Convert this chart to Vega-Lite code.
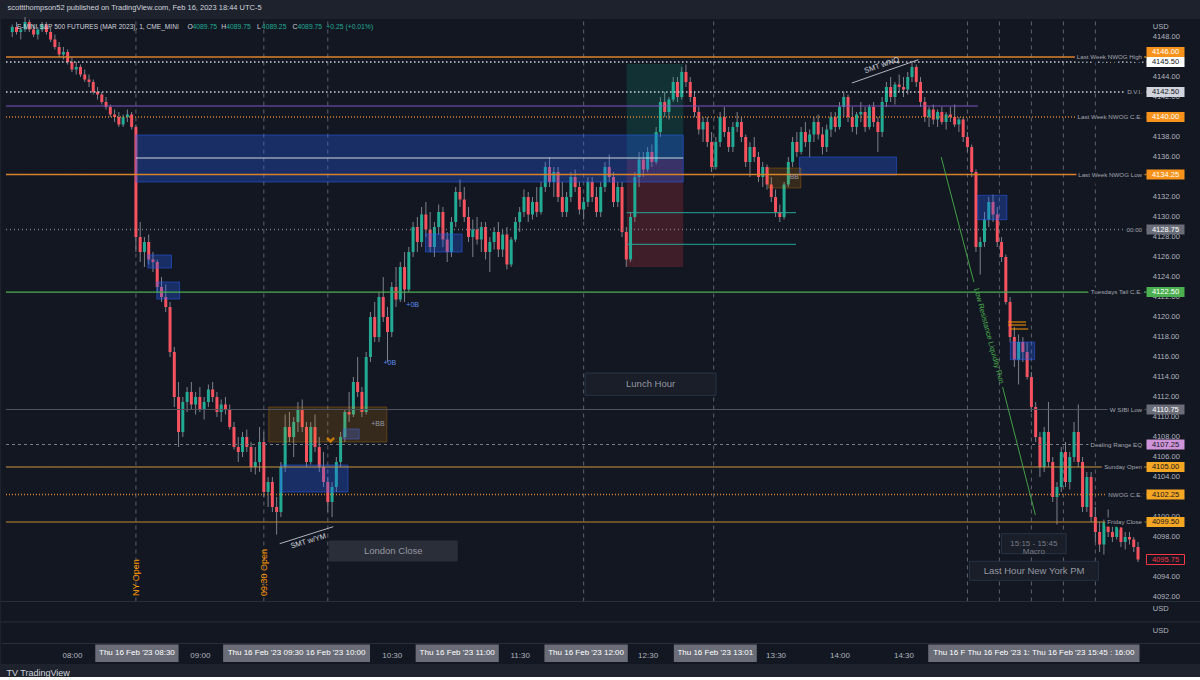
{
"$schema":"https://vega.github.io/schema/vega-lite/v6.json",
"width":1200,"height":645,
"padding":{"left":0,"top":4,"right":0,"bottom":0},
"background":"#1e222d",
"title":{"text":"scottthompson52 published on TradingView.com, Feb 16, 2023 18:44 UTC-5","anchor":"start","fontSize":7.5,"fontWeight":"normal","color":"#d1d4dc","font":"Liberation Sans","offset":5,"dx":7},
"config":{"view":{"fill":"#131722","stroke":null},"font":"Liberation Sans","text":{"font":"Liberation Sans"},"legend":{"disable":true},
 "axis":{"grid":false,"ticks":false,"domain":false,"labelColor":"#b2b5be","labelFont":"Liberation Sans","labelFontSize":7.5,"labelOverlap":false}},
"resolve":{"scale":{"color":"independent","fill":"independent","stroke":"independent","strokeDash":"independent","strokeWidth":"independent"}},
"datasets":{
"c":[
{"t":452,"o":4148.5,"h":4149.25,"l":4148,"c":4149},{"t":454,"o":4149,"h":4149.5,"l":4148.25,"c":4148.5},{"t":456,"o":4148.5,"h":4149,"l":4147.75,"c":4148.75},{"t":458,"o":4148.75,"h":4150,"l":4148.5,"c":4149.5},{"t":460,"o":4149.5,"h":4149.75,"l":4148.5,"c":4148.75},{"t":462,"o":4148.75,"h":4149.25,"l":4148,"c":4148.25},{"t":464,"o":4148.25,"h":4149,"l":4147.75,"c":4148.75},{"t":466,"o":4148.75,"h":4149.5,"l":4148.5,"c":4149.25},{"t":468,"o":4149.25,"h":4149.5,"l":4148.25,"c":4148.5},{"t":470,"o":4148.5,"h":4149,"l":4147.5,"c":4147.75},
{"t":472,"o":4147.75,"h":4148.25,"l":4146.75,"c":4147},{"t":474,"o":4147,"h":4147.5,"l":4146,"c":4146.25},{"t":476,"o":4146.25,"h":4147,"l":4145.75,"c":4146.5},{"t":478,"o":4146.5,"h":4146.75,"l":4145.25,"c":4145.5},{"t":480,"o":4145.5,"h":4146,"l":4144.5,"c":4144.75},{"t":482,"o":4144.75,"h":4145.5,"l":4144.25,"c":4145},{"t":484,"o":4145,"h":4145.25,"l":4144,"c":4144.25},{"t":486,"o":4144.25,"h":4144.75,"l":4143.5,"c":4143.75},{"t":488,"o":4143.75,"h":4144.25,"l":4143,"c":4143.5},{"t":490,"o":4143.5,"h":4143.75,"l":4142.25,"c":4142.5},
{"t":492,"o":4142.5,"h":4143,"l":4141.75,"c":4142.25},{"t":494,"o":4142.25,"h":4142.5,"l":4141.25,"c":4141.5},{"t":496,"o":4141.5,"h":4142,"l":4140.75,"c":4141},{"t":498,"o":4141,"h":4141.25,"l":4140,"c":4140.25},{"t":500,"o":4140.25,"h":4140.75,"l":4139.5,"c":4140},{"t":502,"o":4140,"h":4140.5,"l":4139,"c":4139.25},{"t":504,"o":4139.25,"h":4140.25,"l":4139,"c":4140},{"t":506,"o":4140,"h":4140.75,"l":4139.5,"c":4140.25},{"t":508,"o":4140.25,"h":4140.5,"l":4138.75,"c":4139},{"t":510,"o":4139,"h":4139.25,"l":4126.5,"c":4128},
{"t":512,"o":4128,"h":4129.5,"l":4125.5,"c":4126.5},{"t":514,"o":4126.5,"h":4128,"l":4125,"c":4127.5},{"t":516,"o":4127.5,"h":4128.25,"l":4125.25,"c":4125.75},{"t":518,"o":4125.75,"h":4126.5,"l":4124.5,"c":4125.5},{"t":520,"o":4125.5,"h":4125.75,"l":4122.5,"c":4123},{"t":522,"o":4123,"h":4124,"l":4121.5,"c":4122},{"t":524,"o":4122,"h":4123.25,"l":4120.5,"c":4121},{"t":526,"o":4121,"h":4121.5,"l":4116,"c":4116.5},{"t":528,"o":4116.5,"h":4117,"l":4111,"c":4112},{"t":530,"o":4112,"h":4113.5,"l":4107,"c":4108.5},
{"t":532,"o":4108.5,"h":4112,"l":4108,"c":4111.5},{"t":534,"o":4111.5,"h":4113,"l":4110.5,"c":4112.5},{"t":536,"o":4112.5,"h":4113.5,"l":4110.75,"c":4111.25},{"t":538,"o":4111.25,"h":4112.5,"l":4110.25,"c":4112},{"t":540,"o":4112,"h":4113,"l":4110.5,"c":4110.75},{"t":542,"o":4110.75,"h":4112,"l":4109.75,"c":4111.5},{"t":544,"o":4111.5,"h":4113.25,"l":4111,"c":4112.75},{"t":546,"o":4112.75,"h":4113.5,"l":4111.5,"c":4112},{"t":548,"o":4112,"h":4112.5,"l":4110,"c":4110.5},{"t":550,"o":4110.5,"h":4111.75,"l":4109.5,"c":4111.25},
{"t":552,"o":4111.25,"h":4112,"l":4110.25,"c":4110.75},{"t":554,"o":4110.75,"h":4111.25,"l":4108.75,"c":4109},{"t":556,"o":4109,"h":4109.5,"l":4106.75,"c":4107},{"t":558,"o":4107,"h":4108,"l":4105.5,"c":4106.5},{"t":560,"o":4106.5,"h":4108.5,"l":4106,"c":4108},{"t":562,"o":4108,"h":4108.75,"l":4106.5,"c":4107},{"t":564,"o":4107,"h":4107.5,"l":4104.5,"c":4105},{"t":566,"o":4105,"h":4107,"l":4104.25,"c":4105.5},{"t":568,"o":4105.5,"h":4109,"l":4104.5,"c":4107.5},{"t":570,"o":4107.5,"h":4108.5,"l":4102,"c":4102.5},
{"t":572,"o":4102.5,"h":4104,"l":4101,"c":4103.5},{"t":574,"o":4103.5,"h":4104,"l":4100.5,"c":4101},{"t":576,"o":4101,"h":4102,"l":4098.25,"c":4100.5},{"t":578,"o":4100.5,"h":4105.5,"l":4100,"c":4105},{"t":580,"o":4105,"h":4110.25,"l":4104.5,"c":4109},{"t":582,"o":4109,"h":4110.5,"l":4107.5,"c":4108},{"t":584,"o":4108,"h":4110,"l":4106,"c":4109.5},{"t":586,"o":4109.5,"h":4111.5,"l":4108.5,"c":4110.75},{"t":588,"o":4110.75,"h":4111.75,"l":4108.5,"c":4109},{"t":590,"o":4109,"h":4109.5,"l":4105,"c":4105.5},
{"t":592,"o":4105.5,"h":4109.5,"l":4105.25,"c":4109},{"t":594,"o":4109,"h":4110.25,"l":4106.5,"c":4107},{"t":596,"o":4107,"h":4108,"l":4104.5,"c":4105},{"t":598,"o":4105,"h":4106.5,"l":4103,"c":4103.5},{"t":600,"o":4103.5,"h":4104,"l":4100.5,"c":4101.5},{"t":602,"o":4101.5,"h":4103.5,"l":4100,"c":4103},{"t":604,"o":4103,"h":4106,"l":4102.5,"c":4105.5},{"t":606,"o":4105.5,"h":4108.5,"l":4105,"c":4108},{"t":608,"o":4108,"h":4110.75,"l":4107.5,"c":4110.5},{"t":610,"o":4110.5,"h":4112.5,"l":4109.5,"c":4110.25},
{"t":612,"o":4110.25,"h":4114,"l":4110,"c":4113.5},{"t":614,"o":4113.5,"h":4116,"l":4112,"c":4112.5},{"t":616,"o":4112.5,"h":4113,"l":4110,"c":4110.5},{"t":618,"o":4110.5,"h":4116.5,"l":4110.25,"c":4116},{"t":620,"o":4116,"h":4120.5,"l":4115.5,"c":4120},{"t":622,"o":4120,"h":4121.5,"l":4117.5,"c":4118},{"t":624,"o":4118,"h":4122.5,"l":4117.5,"c":4122},{"t":626,"o":4122,"h":4124,"l":4119.5,"c":4120},{"t":628,"o":4120,"h":4121,"l":4115.5,"c":4118.5},{"t":630,"o":4118.5,"h":4123.5,"l":4118,"c":4123},
{"t":632,"o":4123,"h":4125,"l":4121,"c":4121.75},{"t":634,"o":4121.75,"h":4125.5,"l":4121.5,"c":4125},{"t":636,"o":4125,"h":4126.5,"l":4121.5,"c":4122.75},{"t":638,"o":4122.75,"h":4127,"l":4122.5,"c":4126.5},{"t":640,"o":4126.5,"h":4129.5,"l":4126,"c":4129},{"t":642,"o":4129,"h":4130,"l":4126.5,"c":4127.5},{"t":644,"o":4127.5,"h":4131,"l":4127,"c":4130.25},{"t":646,"o":4130.25,"h":4131.5,"l":4128,"c":4128.75},{"t":648,"o":4128.75,"h":4130.5,"l":4126.5,"c":4127},{"t":650,"o":4127,"h":4129.5,"l":4126,"c":4129},
{"t":652,"o":4129,"h":4131.25,"l":4128.25,"c":4130.5},{"t":654,"o":4130.5,"h":4131,"l":4127,"c":4127.75},{"t":656,"o":4127.75,"h":4128.5,"l":4125.5,"c":4126.5},{"t":658,"o":4126.5,"h":4130,"l":4126,"c":4129.5},{"t":660,"o":4129.5,"h":4133,"l":4129,"c":4132.5},{"t":662,"o":4132.5,"h":4133.75,"l":4131,"c":4131.75},{"t":664,"o":4131.75,"h":4133,"l":4129.5,"c":4130},{"t":666,"o":4130,"h":4131,"l":4127.5,"c":4128},{"t":668,"o":4128,"h":4129.75,"l":4126,"c":4128.75},{"t":670,"o":4128.75,"h":4130,"l":4127.25,"c":4127.75},
{"t":672,"o":4127.75,"h":4129.5,"l":4126.5,"c":4129},{"t":674,"o":4129,"h":4129.5,"l":4125.75,"c":4126.5},{"t":676,"o":4126.5,"h":4128,"l":4124.5,"c":4127.5},{"t":678,"o":4127.5,"h":4129,"l":4126.75,"c":4128.5},{"t":680,"o":4128.5,"h":4129.5,"l":4126,"c":4126.75},{"t":682,"o":4126.75,"h":4128.75,"l":4126,"c":4128.25},{"t":684,"o":4128.25,"h":4129,"l":4124.75,"c":4125.25},{"t":686,"o":4125.25,"h":4128,"l":4125,"c":4127.75},{"t":688,"o":4127.75,"h":4130,"l":4127.5,"c":4129.5},{"t":690,"o":4129.5,"h":4131,"l":4128.5,"c":4130.5},
{"t":692,"o":4130.5,"h":4132.75,"l":4130,"c":4132},{"t":694,"o":4132,"h":4132.5,"l":4129.5,"c":4130.25},{"t":696,"o":4130.25,"h":4132,"l":4129.75,"c":4131.5},{"t":698,"o":4131.5,"h":4133,"l":4130,"c":4130.5},{"t":700,"o":4130.5,"h":4133.5,"l":4130.25,"c":4133},{"t":702,"o":4133,"h":4135.5,"l":4132.5,"c":4135},{"t":704,"o":4135,"h":4136,"l":4133,"c":4133.5},{"t":706,"o":4133.5,"h":4135,"l":4132,"c":4134.5},{"t":708,"o":4134.5,"h":4135,"l":4131.5,"c":4132},{"t":710,"o":4132,"h":4133.5,"l":4130,"c":4130.5},
{"t":712,"o":4130.5,"h":4132.5,"l":4130,"c":4132},{"t":714,"o":4132,"h":4134.5,"l":4131.5,"c":4134},{"t":716,"o":4134,"h":4134.75,"l":4132.5,"c":4133},{"t":718,"o":4133,"h":4133.5,"l":4130.25,"c":4130.75},{"t":720,"o":4130.75,"h":4132,"l":4129.75,"c":4131.5},{"t":722,"o":4131.5,"h":4134,"l":4131,"c":4133.5},{"t":724,"o":4133.5,"h":4134,"l":4131.5,"c":4132},{"t":726,"o":4132,"h":4133,"l":4130,"c":4130.5},{"t":728,"o":4130.5,"h":4133.5,"l":4130,"c":4133},{"t":730,"o":4133,"h":4135.5,"l":4132.5,"c":4135},
{"t":732,"o":4135,"h":4136.25,"l":4133.5,"c":4134},{"t":734,"o":4134,"h":4134.5,"l":4131,"c":4131.5},{"t":736,"o":4131.5,"h":4133.5,"l":4131,"c":4133},{"t":738,"o":4133,"h":4133.5,"l":4128,"c":4128.5},{"t":740,"o":4128.5,"h":4129,"l":4125,"c":4125.75},{"t":742,"o":4125.75,"h":4130.5,"l":4125.5,"c":4130},{"t":744,"o":4130,"h":4134.5,"l":4129.5,"c":4134},{"t":746,"o":4134,"h":4136.5,"l":4133,"c":4135.75},{"t":748,"o":4135.75,"h":4136.5,"l":4134,"c":4134.75},{"t":750,"o":4134.75,"h":4137,"l":4134.5,"c":4136.5},
{"t":752,"o":4136.5,"h":4137.25,"l":4135,"c":4135.5},{"t":754,"o":4135.5,"h":4139,"l":4135.25,"c":4138.5},{"t":756,"o":4138.5,"h":4142,"l":4138,"c":4141.5},{"t":758,"o":4141.5,"h":4142.5,"l":4140,"c":4140.5},{"t":760,"o":4140.5,"h":4142,"l":4139.75,"c":4141.75},{"t":762,"o":4141.75,"h":4144,"l":4141.5,"c":4143.5},{"t":764,"o":4143.5,"h":4144,"l":4141.5,"c":4142},{"t":766,"o":4142,"h":4145,"l":4141.75,"c":4144.5},{"t":768,"o":4144.5,"h":4145.25,"l":4143,"c":4143.5},{"t":770,"o":4143.5,"h":4144,"l":4141.5,"c":4142},
{"t":772,"o":4142,"h":4142.5,"l":4140,"c":4140.5},{"t":774,"o":4140.5,"h":4141,"l":4138.25,"c":4138.75},{"t":776,"o":4138.75,"h":4140,"l":4137.5,"c":4139.5},{"t":778,"o":4139.5,"h":4140,"l":4137,"c":4137.5},{"t":780,"o":4137.5,"h":4138.5,"l":4134.5,"c":4135},{"t":782,"o":4135,"h":4138,"l":4134.75,"c":4137.5},{"t":784,"o":4137.5,"h":4140.5,"l":4137,"c":4140},{"t":786,"o":4140,"h":4141,"l":4138,"c":4138.5},{"t":788,"o":4138.5,"h":4139,"l":4136.5,"c":4137},{"t":790,"o":4137,"h":4139.5,"l":4136.5,"c":4139},
{"t":792,"o":4139,"h":4140.5,"l":4138.5,"c":4139.5},{"t":794,"o":4139.5,"h":4140,"l":4137.5,"c":4138},{"t":796,"o":4138,"h":4138.25,"l":4135,"c":4135.5},{"t":798,"o":4135.5,"h":4137.5,"l":4134,"c":4137},{"t":800,"o":4137,"h":4138,"l":4135.5,"c":4136},{"t":802,"o":4136,"h":4136.5,"l":4133.5,"c":4134},{"t":804,"o":4134,"h":4135.5,"l":4133,"c":4135},{"t":806,"o":4135,"h":4135.25,"l":4132.75,"c":4133.25},{"t":808,"o":4133.25,"h":4134,"l":4131.5,"c":4132},{"t":810,"o":4132,"h":4132.75,"l":4130,"c":4130.5},
{"t":812,"o":4130.5,"h":4131.25,"l":4129.5,"c":4130},{"t":814,"o":4130,"h":4133.5,"l":4129.75,"c":4133.25},{"t":816,"o":4133.25,"h":4136,"l":4133,"c":4135.5},{"t":818,"o":4135.5,"h":4138,"l":4135,"c":4137.5},{"t":820,"o":4137.5,"h":4138.5,"l":4136,"c":4136.5},{"t":822,"o":4136.5,"h":4139,"l":4136.25,"c":4138.5},{"t":824,"o":4138.5,"h":4139.5,"l":4137,"c":4137.5},{"t":826,"o":4137.5,"h":4138.75,"l":4136,"c":4138.25},{"t":828,"o":4138.25,"h":4140,"l":4137.5,"c":4139.5},{"t":830,"o":4139.5,"h":4140.25,"l":4137.75,"c":4138.25},
{"t":832,"o":4138.25,"h":4139,"l":4136.25,"c":4137},{"t":834,"o":4137,"h":4139.25,"l":4136.5,"c":4138.75},{"t":836,"o":4138.75,"h":4140.5,"l":4138,"c":4140},{"t":838,"o":4140,"h":4140.5,"l":4138.5,"c":4139},{"t":840,"o":4139,"h":4141.5,"l":4138.75,"c":4141},{"t":842,"o":4141,"h":4142.5,"l":4140,"c":4142},{"t":844,"o":4142,"h":4142.25,"l":4139.5,"c":4140},{"t":846,"o":4140,"h":4141,"l":4138.5,"c":4139},{"t":848,"o":4139,"h":4140.5,"l":4138.25,"c":4140.25},{"t":850,"o":4140.25,"h":4141.5,"l":4139.5,"c":4140.5},
{"t":852,"o":4140.5,"h":4141,"l":4138.5,"c":4139},{"t":854,"o":4139,"h":4141.25,"l":4138.75,"c":4141},{"t":856,"o":4141,"h":4141.5,"l":4139,"c":4139.5},{"t":858,"o":4139.5,"h":4140,"l":4136.5,"c":4138.5},{"t":860,"o":4138.5,"h":4142,"l":4138,"c":4141.5},{"t":862,"o":4141.5,"h":4143.5,"l":4141,"c":4143},{"t":864,"o":4143,"h":4144,"l":4141.5,"c":4142},{"t":866,"o":4142,"h":4143.5,"l":4141.25,"c":4143.25},{"t":868,"o":4143.25,"h":4144.25,"l":4142.5,"c":4143},{"t":870,"o":4143,"h":4144,"l":4142,"c":4142.75},
{"t":872,"o":4142.75,"h":4144.5,"l":4142.25,"c":4144},{"t":874,"o":4144,"h":4145.5,"l":4143.5,"c":4145},{"t":876,"o":4145,"h":4145.25,"l":4143,"c":4143.5},{"t":878,"o":4143.5,"h":4144,"l":4141,"c":4141.5},{"t":880,"o":4141.5,"h":4142,"l":4139.5,"c":4140},{"t":882,"o":4140,"h":4141,"l":4139,"c":4140.75},{"t":884,"o":4140.75,"h":4141.25,"l":4139.25,"c":4139.75},{"t":886,"o":4139.75,"h":4140.75,"l":4139,"c":4140.5},{"t":888,"o":4140.5,"h":4141,"l":4139.25,"c":4139.5},{"t":890,"o":4139.5,"h":4140.5,"l":4138.75,"c":4140.25},
{"t":892,"o":4140.25,"h":4141,"l":4139.5,"c":4140},{"t":894,"o":4140,"h":4141.25,"l":4139,"c":4139.25},{"t":896,"o":4139.25,"h":4140,"l":4138.5,"c":4139.75},{"t":898,"o":4139.75,"h":4140,"l":4137.5,"c":4138},{"t":900,"o":4138,"h":4138.5,"l":4136.5,"c":4137},{"t":902,"o":4137,"h":4137.25,"l":4134,"c":4134.5},{"t":904,"o":4134.5,"h":4134.75,"l":4126.5,"c":4127},{"t":906,"o":4127,"h":4128,"l":4124.25,"c":4127.5},{"t":908,"o":4127.5,"h":4130.5,"l":4127,"c":4129.75},{"t":910,"o":4129.75,"h":4132,"l":4129,"c":4131.5},
{"t":912,"o":4131.5,"h":4132.25,"l":4129.5,"c":4130.25},{"t":914,"o":4130.25,"h":4131,"l":4127,"c":4127.5},{"t":916,"o":4127.5,"h":4128,"l":4125.5,"c":4126},{"t":918,"o":4126,"h":4126.25,"l":4121.25,"c":4121.5},{"t":920,"o":4121.5,"h":4122,"l":4117.5,"c":4118},{"t":922,"o":4118,"h":4119,"l":4115,"c":4115.75},{"t":924,"o":4115.75,"h":4118.25,"l":4113.25,"c":4117.5},{"t":926,"o":4117.5,"h":4118,"l":4115.5,"c":4116.5},{"t":928,"o":4116.5,"h":4117.5,"l":4113.75,"c":4114},{"t":930,"o":4114,"h":4114.5,"l":4110.5,"c":4111},
{"t":932,"o":4111,"h":4111.5,"l":4107.5,"c":4108},{"t":934,"o":4108,"h":4108.5,"l":4104,"c":4105},{"t":936,"o":4105,"h":4109,"l":4104.5,"c":4108.5},{"t":938,"o":4108.5,"h":4111.5,"l":4105,"c":4105.5},{"t":940,"o":4105.5,"h":4106,"l":4101.5,"c":4102},{"t":942,"o":4102,"h":4103.5,"l":4099.25,"c":4103},{"t":944,"o":4103,"h":4107,"l":4102.5,"c":4106.5},{"t":946,"o":4106.5,"h":4107.5,"l":4103,"c":4103.5},{"t":948,"o":4103.5,"h":4106.5,"l":4102.75,"c":4106},{"t":950,"o":4106,"h":4109.5,"l":4105.5,"c":4108.5},
{"t":952,"o":4108.5,"h":4111.25,"l":4105,"c":4105.5},{"t":954,"o":4105.5,"h":4106,"l":4100.5,"c":4101},{"t":956,"o":4101,"h":4104.5,"l":4100.5,"c":4104},{"t":958,"o":4104,"h":4104.5,"l":4099.5,"c":4100},{"t":960,"o":4100,"h":4101,"l":4097.5,"c":4098.5},{"t":962,"o":4098.5,"h":4099.5,"l":4096.5,"c":4097.25},{"t":964,"o":4097.25,"h":4099.75,"l":4096.25,"c":4099.5},{"t":966,"o":4099.5,"h":4100.75,"l":4098,"c":4098.5},{"t":968,"o":4098.5,"h":4099.5,"l":4097.5,"c":4098},{"t":970,"o":4098,"h":4099.5,"l":4097.75,"c":4099.25},
{"t":972,"o":4099.25,"h":4099.5,"l":4097,"c":4097.5},{"t":974,"o":4097.5,"h":4098.5,"l":4096.75,"c":4098},{"t":976,"o":4098,"h":4098.5,"l":4097.25,"c":4097.75},{"t":978,"o":4097.75,"h":4098,"l":4096.5,"c":4097},{"t":980,"o":4097,"h":4097.5,"l":4095.5,"c":4095.75}
],
"lv":[
{"p":4146,"label":"Last Week NWOG High","line":"os","tag":"ow"},
{"p":4145.5,"label":"","line":"wd","tag":"wh"},
{"p":4142.5,"label":"D.V.I.","line":"wd","tag":"sv"},
{"p":4140,"label":"Last Week NWOG C.E.","line":"od","tag":"ow"},
{"p":4134.25,"label":"Last Week NWOG Low","line":"os","tag":"ow"},
{"p":4128.75,"label":"00:00","line":"gd","tag":"gy"},
{"p":4122.5,"label":"Tuesdays Tail C.E.","line":"gr","tag":"gn"},
{"p":4110.75,"label":"W SIBI Low","line":"gs","tag":"gy"},
{"p":4107.25,"label":"Dealing Range EQ","line":"gdash","tag":"pk"},
{"p":4105,"label":"Sunday Open","line":"tan","tag":"am"},
{"p":4102.25,"label":"NWOG C.E.","line":"od","tag":"am"},
{"p":4099.5,"label":"Friday Close","line":"ot","tag":"am"}
],
"bb":[
{"t1":510,"t2":766.7,"p1":4138.2,"p2":4133.5},
{"t1":577.8,"t2":609.5,"p1":4105.2,"p2":4102.5},
{"t1":607.2,"t2":614.7,"p1":4108.8,"p2":4107.8},
{"t1":821.2,"t2":866.7,"p1":4136,"p2":4134.2},
{"t1":645.8,"t2":663,"p1":4128.3,"p2":4126.5},
{"t1":515.6,"t2":526.7,"p1":4126.2,"p2":4124.9},
{"t1":519.8,"t2":530.5,"p1":4123.5,"p2":4121.8},
{"t1":904.9,"t2":918.5,"p1":4132.17,"p2":4129.73},
{"t1":920.1,"t2":931.5,"p1":4117.5,"p2":4115.73}
],
"ob":[
{"t1":572.3,"t2":627.7,"p1":4111,"p2":4107.5},
{"t1":806.7,"t2":821.9,"p1":4134.9,"p2":4132.9}
],
"seg":[
{"t1":510,"t2":766.7,"p":4135.9,"k":"w"},
{"t1":740.2,"t2":819.6,"p":4130.43,"k":"t"},
{"t1":740.2,"t2":819.6,"p":4127.27,"k":"t"},
{"t1":449.07,"t2":904.9,"p":4141.1,"k":"pu"},
{"t1":919,"t2":927.5,"p":4119.5,"k":"o"},
{"t1":919,"t2":927.5,"p":4119.2,"k":"o"},
{"t1":920,"t2":928.5,"p":4118.8,"k":"o"}
],
"diag":[
{"g":"a","t":577.44,"p":4097.33},{"g":"a","t":602.56,"p":4099.03},
{"g":"b","t":845.81,"p":4143.4},{"g":"b","t":876.98,"p":4145.73},
{"g":"c","t":887.68,"p":4136.0},{"g":"c","t":903.0,"p":4123.5},
{"g":"d","t":916.5,"p":4113.0},{"g":"d","t":931.86,"p":4100.2}
],
"zones":[
{"label":"London Close","t1":600.7,"t2":660.7,"p1":4097.6,"p2":4095.6,"k":"s"},
{"label":"Lunch Hour","t1":720.7,"t2":782.1,"p1":4114.4,"p2":4112.17,"k":"f"},
{"label":"Last Hour New York PM","t1":901,"t2":961.5,"p1":4095.57,"p2":4093.67,"k":"f"},
{"label":"15:15 - 15:45\nMacro","t1":916,"t2":946.3,"p1":4098.33,"p2":4096.33,"k":"f"}
],
"notes":[
{"txt":"+0B","t":639.8,"p":4121.2,"k":"b"},
{"txt":"+0B","t":629.1,"p":4115.4,"k":"b"},
{"txt":"+BB","t":623.5,"p":4109.27,"k":"g"},
{"txt":"BB","t":818.8,"p":4134,"k":"g"}
],
"tx":[
{"t1":490.93,"t2":530,"label":"Thu 16 Feb '23  08:30"},
{"t1":550.9,"t2":619.8,"label":"Thu 16 Feb '23  09:30   16 Feb '23  10:00"},
{"t1":641.2,"t2":680.2,"label":"Thu 16 Feb '23  11:00"},
{"t1":701.6,"t2":740.7,"label":"Thu 16 Feb '23  12:00"},
{"t1":762.3,"t2":801.2,"label":"Thu 16 Feb '23  13:01"},
{"t1":881.6,"t2":980.7,"label":"Thu 16 F   Thu 16 Feb '23  1:   Thu 16 Feb '23  15:45  :  16:00"}
],
"usd":[{"p":4149.0},{"p":4090.77},{"p":4088.63}],
"yt":[{"p":4148},{"p":4144},{"p":4142},{"p":4138},{"p":4136},{"p":4132},{"p":4130},{"p":4128},{"p":4126},{"p":4124},{"p":4122},{"p":4120},{"p":4118},{"p":4116},{"p":4114},{"p":4112},{"p":4110},{"p":4108},{"p":4106},{"p":4104},{"p":4100},{"p":4098},{"p":4096},{"p":4094},{"p":4092}],
"vl":[{"t":510},{"t":570},{"t":600},{"t":720},{"t":781},{"t":900},{"t":915},{"t":930},{"t":945},{"t":960}]
},
"layer":[
{"data":{"name":"c"},"mark":{"type":"rule","color":"#7d818b","strokeWidth":1},
 "encoding":{
  "x":{"field":"t","type":"quantitative","scale":{"domain":[449.07,1007.2],"nice":false,"zero":false},
   "axis":{"orient":"bottom","offset":-21,"values":[480,540,630,690,750,810,840,870],
    "labelExpr":"format(floor(datum.value/60),'02d')+':'+format(datum.value%60,'02d')",
    "ticks":false,"tickSize":0,"grid":false,"domain":true,"domainColor":"#2a2e39","labelColor":"#b2b5be","labelFontSize":8,"labelFont":"Liberation Sans",
    "labelPadding":12,"labelBaseline":"middle","labelFlush":false,"labelOverlap":false,
    "title":"TV TradingView","titleX":5,"titleY":29,"titleAlign":"left","titleBaseline":"middle","titleFontSize":9,"titleFontWeight":"normal","titleColor":"#d1d4dc","titleFont":"Liberation Sans"}},
  "y":{"field":"l","type":"quantitative","scale":{"domain":[4085.3,4149.8],"nice":false,"zero":false},
   "axis":{"orient":"right","offset":-50,"labels":false,"ticks":false,"grid":false,"domain":false,"title":null}},
  "y2":{"field":"h"}}},
{"data":{"name":"vl"},"mark":{"type":"rule","color":"#787b86","strokeDash":[4,4],"strokeWidth":1,"opacity":0.75},
 "encoding":{"x":{"field":"t","type":"quantitative"},"y":{"datum":4091.55},"y2":{"datum":4149.8}}},
{"data":{"values":[{"p":4091.55},{"p":4089.5}]},"mark":{"type":"rule","color":"#2a2e39","strokeWidth":1},
 "encoding":{"y":{"field":"p","type":"quantitative"}}},
{"data":{"name":"usd"},"mark":{"type":"text","text":"USD","color":"#b2b5be","fontSize":7.5,"align":"left","baseline":"middle"},
 "encoding":{"x":{"datum":986.9},"y":{"field":"p","type":"quantitative"}}},
{"data":{"name":"yt"},"mark":{"type":"text","color":"#b2b5be","fontSize":7.5,"align":"left","baseline":"middle"},
 "encoding":{"x":{"datum":986.9},"y":{"field":"p","type":"quantitative"},"text":{"field":"p","type":"quantitative","format":".2f"}}},
{"data":{"values":[{"t1":740.2,"t2":766.7,"p1":4145.3,"p2":4135.75,"k":"g"},{"t1":740.2,"t2":766.7,"p1":4135.75,"p2":4125,"k":"r"}]},
 "mark":{"type":"rect","opacity":0.2},
 "encoding":{"x":{"field":"t1","type":"quantitative"},"x2":{"field":"t2"},"y":{"field":"p1","type":"quantitative"},"y2":{"field":"p2"},
  "fill":{"field":"k","type":"nominal","scale":{"domain":["g","r"],"range":["#089981","#f23645"]}}}},
{"data":{"name":"c"},"mark":{"type":"bar","size":3},
 "encoding":{"x":{"field":"t","type":"quantitative"},"y":{"field":"o","type":"quantitative"},"y2":{"field":"c"},
  "color":{"condition":{"test":"datum.c >= datum.o","value":"#22ab94"},"value":"#f7525f"}}},
{"data":{"name":"bb"},"mark":{"type":"rect","fill":"#2962ff","fillOpacity":0.3,"stroke":"#2962ff","strokeOpacity":0.5,"strokeWidth":1},
 "encoding":{"x":{"field":"t1","type":"quantitative"},"x2":{"field":"t2"},"y":{"field":"p1","type":"quantitative"},"y2":{"field":"p2"}}},
{"data":{"name":"ob"},"mark":{"type":"rect","fill":"#ff9800","fillOpacity":0.15,"stroke":"#ff9800","strokeOpacity":0.25,"strokeWidth":1},
 "encoding":{"x":{"field":"t1","type":"quantitative"},"x2":{"field":"t2"},"y":{"field":"p1","type":"quantitative"},"y2":{"field":"p2"}}},
{"data":{"name":"lv"},"mark":{"type":"rule"},
 "encoding":{"x":{"datum":449.07},"x2":{"datum":984},"y":{"field":"p","type":"quantitative"},
  "color":{"field":"line","type":"nominal","scale":{"domain":["os","wd","od","gd","gr","gs","gdash","tan","ot"],"range":["#d9822b","#d1d4dc","#d9822b","#787b86","#4caf50","#50535e","#787b86","#c9953f","#c08a35"]}},
  "strokeDash":{"field":"line","type":"nominal","scale":{"domain":["os","wd","od","gd","gr","gs","gdash","tan","ot"],"range":[[1,0],[1.5,2.5],[1,2],[1,3],[1,0],[1,0],[3,3],[1,0],[1,0]]}},
  "strokeWidth":{"field":"line","type":"nominal","scale":{"domain":["os","wd","od","gd","gr","gs","gdash","tan","ot"],"range":[1.5,1,1,1,1,1,1,1.5,2]}}}},
{"data":{"name":"seg"},"mark":{"type":"rule","strokeWidth":1},
 "encoding":{"x":{"field":"t1","type":"quantitative"},"x2":{"field":"t2"},"y":{"field":"p","type":"quantitative"},
  "color":{"field":"k","type":"nominal","scale":{"domain":["w","t","pu","o"],"range":["#d1d4dc","#26a69a","#7e57c2","#ff9800"]}}}},
{"data":{"name":"diag"},"mark":{"type":"line","strokeWidth":1},
 "encoding":{"x":{"field":"t","type":"quantitative"},"y":{"field":"p","type":"quantitative"},
  "detail":{"field":"g"},
  "color":{"field":"g","type":"nominal","scale":{"domain":["a","b","c","d"],"range":["#b2b5be","#b2b5be","#43a047","#43a047"]}}}},
{"data":{"name":"zones"},"mark":{"type":"rect","strokeWidth":1},
 "encoding":{"x":{"field":"t1","type":"quantitative"},"x2":{"field":"t2"},"y":{"field":"p1","type":"quantitative"},"y2":{"field":"p2"},
  "fill":{"field":"k","type":"nominal","scale":{"domain":["s","f"],"range":["#2a2e39","#1a1e29"]}},
  "stroke":{"field":"k","type":"nominal","scale":{"domain":["s","f"],"range":["#2a2e39","#263445"]}}}},
{"data":{"name":"zones"},"transform":[{"filter":"datum.t1 != 916"},{"calculate":"(datum.t1+datum.t2)/2","as":"tm"},{"calculate":"(datum.p1+datum.p2)/2","as":"pm"}],
 "mark":{"type":"text","color":"#9598a1","fontSize":9.5,"align":"center","baseline":"middle"},
 "encoding":{"x":{"field":"tm","type":"quantitative"},"y":{"field":"pm","type":"quantitative"},"text":{"field":"label"}}},
{"data":{"name":"zones"},"transform":[{"filter":"datum.t1 == 916"},{"calculate":"(datum.t1+datum.t2)/2","as":"tm"},{"calculate":"(datum.p1+datum.p2)/2","as":"pm"}],
 "mark":{"type":"text","color":"#787b86","fontSize":8,"align":"center","baseline":"middle","lineBreak":"\n","lineHeight":8},
 "encoding":{"x":{"field":"tm","type":"quantitative"},"y":{"field":"pm","type":"quantitative"},"text":{"field":"label"}}},
{"data":{"name":"notes"},"mark":{"type":"text","fontSize":7,"align":"center","baseline":"middle"},
 "encoding":{"x":{"field":"t","type":"quantitative"},"y":{"field":"p","type":"quantitative"},"text":{"field":"txt"},
  "color":{"field":"k","type":"nominal","scale":{"domain":["b","g"],"range":["#5b8def","#9598a1"]}}}},
{"data":{"values":[{}]},"mark":{"type":"text","text":"NY Open","angle":270,"color":"#ff9800","fontSize":9,"align":"left","baseline":"middle"},
 "encoding":{"x":{"datum":510},"y":{"datum":4092.1}}},
{"data":{"values":[{}]},"mark":{"type":"text","text":"09:30 Open","angle":270,"color":"#ff9800","fontSize":9,"align":"left","baseline":"middle"},
 "encoding":{"x":{"datum":570},"y":{"datum":4092.1}}},
{"data":{"values":[{}]},"mark":{"type":"text","text":"SMT w/YM","angle":343,"color":"#d1d4dc","fontSize":7.5,"align":"center","baseline":"middle"},
 "encoding":{"x":{"datum":590.9},"y":{"datum":4097.57}}},
{"data":{"values":[{}]},"mark":{"type":"text","text":"SMT w/NQ","angle":341,"color":"#d1d4dc","fontSize":7.5,"align":"center","baseline":"middle"},
 "encoding":{"x":{"datum":859.9},"y":{"datum":4145.17}}},
{"data":{"values":[{}]},"mark":{"type":"text","text":"Low Resistance Liquidity Run","angle":75,"color":"#4caf50","fontSize":7.5,"align":"center","baseline":"middle"},
 "encoding":{"x":{"datum":909.99},"y":{"datum":4118.1}}},
{"data":{"values":[{}]},"mark":{"type":"point","shape":"M-1,-0.5L0,0.5L1,-0.5","filled":false,"stroke":"#ff9800","strokeWidth":2.5,"size":50},
 "encoding":{"x":{"datum":601.3},"y":{"datum":4107.73}}},
{"data":{"name":"lv"},"mark":{"type":"text","fontSize":6.2,"align":"right","baseline":"middle","color":"#131722","stroke":"#131722","strokeWidth":5},
 "encoding":{"x":{"datum":981.9},"y":{"field":"p","type":"quantitative"},"text":{"field":"label"}}},
{"data":{"name":"lv"},"mark":{"type":"text","fontSize":6.2,"align":"right","baseline":"middle","color":"#a3a6af"},
 "encoding":{"x":{"datum":981.9},"y":{"field":"p","type":"quantitative"},"text":{"field":"label"}}},
{"data":{"name":"lv"},"transform":[{"filter":"datum.p != 4146"}],"mark":{"type":"tick","orient":"horizontal","size":38,"thickness":10,"opacity":1},
 "encoding":{"x":{"datum":992.9},"y":{"field":"p","type":"quantitative"},
  "color":{"field":"tag","type":"nominal","scale":{"domain":["ow","wh","sv","gy","gn","pk","am"],"range":["#f7931a","#ffffff","#d1d4dc","#6a6d78","#4caf50","#ce93d8","#f5a623"]}}}},
{"data":{"name":"lv"},"transform":[{"filter":"datum.p != 4146"}],"mark":{"type":"text","fontSize":7.5,"align":"center","baseline":"middle"},
 "encoding":{"x":{"datum":992.9},"y":{"field":"p","type":"quantitative"},"text":{"field":"p","type":"quantitative","format":".2f"},
  "color":{"field":"tag","type":"nominal","scale":{"domain":["ow","wh","sv","gy","gn","pk","am"],"range":["#ffffff","#131722","#131722","#ffffff","#ffffff","#131722","#131722"]}}}},
{"data":{"values":[{"p":4146}]},"mark":{"type":"tick","orient":"horizontal","size":38,"thickness":10,"color":"#f7931a","opacity":1,"yOffset":-5},
 "encoding":{"x":{"datum":992.9},"y":{"field":"p","type":"quantitative"}}},
{"data":{"values":[{"p":4146}]},"mark":{"type":"text","fontSize":7.5,"align":"center","baseline":"middle","color":"#ffffff","yOffset":-5},
 "encoding":{"x":{"datum":992.9},"y":{"field":"p","type":"quantitative"},"text":{"field":"p","type":"quantitative","format":".2f"}}},
{"data":{"values":[{"p":4095.75}]},"mark":{"type":"tick","orient":"horizontal","size":38,"thickness":10,"fill":"#131722","stroke":"#f23645","strokeWidth":1,"opacity":1},
 "encoding":{"x":{"datum":992.9},"y":{"field":"p","type":"quantitative"}}},
{"data":{"values":[{"p":4095.75}]},"mark":{"type":"text","fontSize":7.5,"align":"center","baseline":"middle","color":"#f23645"},
 "encoding":{"x":{"datum":992.9},"y":{"field":"p","type":"quantitative"},"text":{"field":"p","type":"quantitative","format":".2f"}}},
{"data":{"name":"tx"},"mark":{"type":"rect","fill":"#6a6d78"},
 "encoding":{"x":{"field":"t1","type":"quantitative"},"x2":{"field":"t2"},"y":{"datum":4087.24},"y2":{"datum":4085.5}}},
{"data":{"name":"tx"},"transform":[{"calculate":"(datum.t1+datum.t2)/2","as":"tm"}],"mark":{"type":"text","fontSize":8,"align":"center","baseline":"middle","color":"#ffffff"},
 "encoding":{"x":{"field":"tm","type":"quantitative"},"y":{"datum":4086.37},"text":{"field":"label"}}},
{"data":{"values":[{}]},"mark":{"type":"text","text":"E-MINI S&P 500 FUTURES (MAR 2023), 1, CME_MINI","color":"#d1d4dc","fontSize":6.6,"align":"left","baseline":"middle"},
 "encoding":{"x":{"datum":454.19},"y":{"datum":4149.0}}},
{"data":{"values":[{}]},"mark":{"type":"text","text":"O","color":"#d1d4dc","fontSize":6.8,"align":"left","baseline":"middle"},"encoding":{"x":{"datum":534.19},"y":{"datum":4149.0}}},
{"data":{"values":[{}]},"mark":{"type":"text","text":"4089.75","color":"#22ab94","fontSize":6.8,"align":"left","baseline":"middle"},"encoding":{"x":{"datum":536.51},"y":{"datum":4149.0}}},
{"data":{"values":[{}]},"mark":{"type":"text","text":"H","color":"#d1d4dc","fontSize":6.8,"align":"left","baseline":"middle"},"encoding":{"x":{"datum":550.0},"y":{"datum":4149.0}}},
{"data":{"values":[{}]},"mark":{"type":"text","text":"4089.75","color":"#22ab94","fontSize":6.8,"align":"left","baseline":"middle"},"encoding":{"x":{"datum":552.33},"y":{"datum":4149.0}}},
{"data":{"values":[{}]},"mark":{"type":"text","text":"L","color":"#d1d4dc","fontSize":6.8,"align":"left","baseline":"middle"},"encoding":{"x":{"datum":566.74},"y":{"datum":4149.0}}},
{"data":{"values":[{}]},"mark":{"type":"text","text":"4089.25","color":"#22ab94","fontSize":6.8,"align":"left","baseline":"middle"},"encoding":{"x":{"datum":569.07},"y":{"datum":4149.0}}},
{"data":{"values":[{}]},"mark":{"type":"text","text":"C","color":"#d1d4dc","fontSize":6.8,"align":"left","baseline":"middle"},"encoding":{"x":{"datum":583.49},"y":{"datum":4149.0}}},
{"data":{"values":[{}]},"mark":{"type":"text","text":"4089.75","color":"#22ab94","fontSize":6.8,"align":"left","baseline":"middle"},"encoding":{"x":{"datum":585.81},"y":{"datum":4149.0}}},
{"data":{"values":[{}]},"mark":{"type":"text","text":"+0.25 (+0.01%)","color":"#22ab94","fontSize":6.8,"align":"left","baseline":"middle"},"encoding":{"x":{"datum":599.3},"y":{"datum":4149.0}}}
]
}
